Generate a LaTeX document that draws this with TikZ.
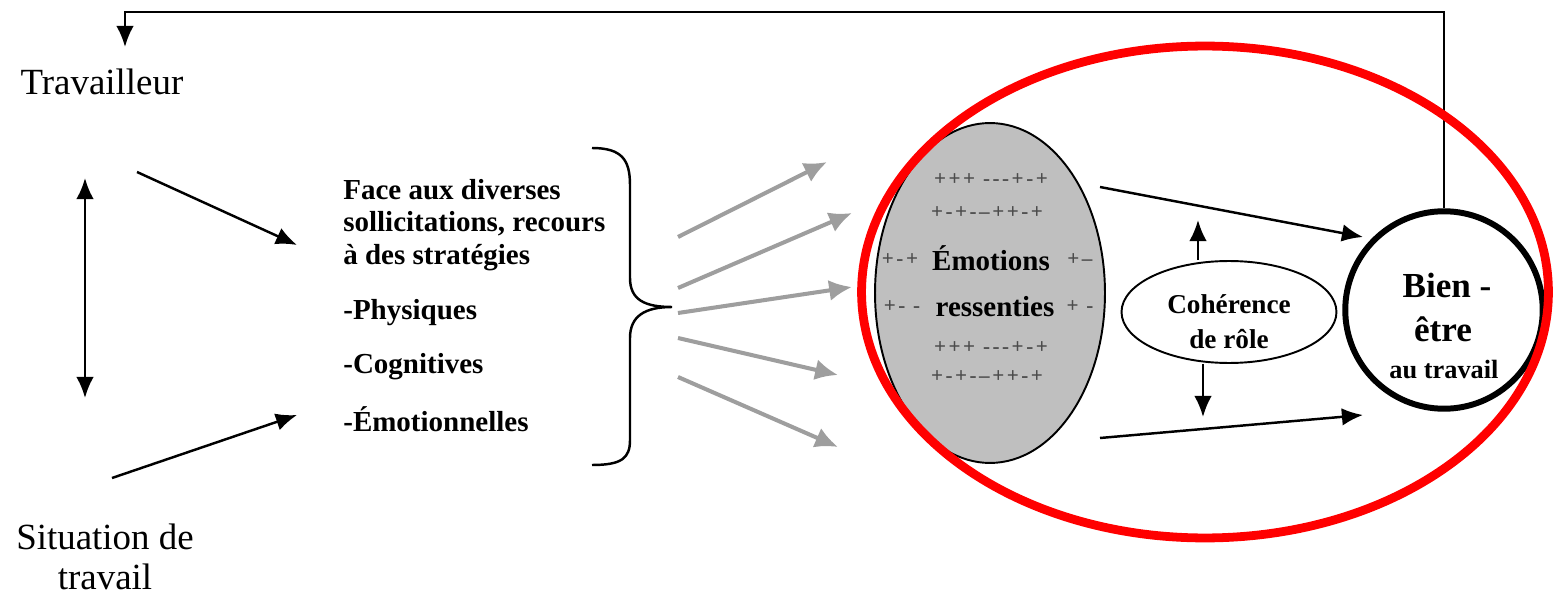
\documentclass[tikz,border=0pt]{standalone}
\usepackage{fontspec}
\setmainfont{Liberation Serif}
\newfontfamily\signesfont[LetterSpace=12,Ligatures=TeXOff]{Liberation Serif}
\usetikzlibrary{arrows.meta,shapes.geometric,positioning}

\begin{document}
\begin{tikzpicture}[x=0.02cm,y=-0.02cm,
    fleche/.style={line width=1.4pt,-{Latex[length=12pt,width=10pt]}},
    gfleche/.style={line width=2.3pt,black!38,-{Latex[length=13pt,width=12pt]}},
    gras/.style={font=\bfseries\fontsize{16.5}{18.7}\selectfont,inner sep=0pt},
    signes/.style={font=\signesfont\bfseries\fontsize{12}{14}\selectfont,text=black!70,inner sep=0pt}]
  \useasboundingbox (0,0) rectangle (1553,598);

  % acteurs
  \node[font=\fontsize{21}{24}\selectfont] (trav) at (102,82) {Travailleur};
  \node[font=\fontsize{21}{23}\selectfont,align=center] (situ) at (105,557) {Situation de\\travail};

  % strategies
  \node[gras,align=left,anchor=west] (face) at (343,225) {Face aux diverses\\sollicitations, recours\\à des stratégies};
  \node[gras,anchor=west] (phys) at (343,313) {-Physiques};
  \node[gras,anchor=west] (cogn) at (343,367) {-Cognitives};
  \node[gras,anchor=west] (emon) at (343,419) {-Émotionnelles};

  % accolade
  \draw[line width=1.4pt] (592,148) .. controls (622,148) and (630,160) .. (630,185) -- (630,278)
     .. controls (630,300) and (645,307) .. (672,307)
     .. controls (645,307) and (630,316) .. (630,338) -- (630,440)
     .. controls (630,458) and (622,465) .. (592,465);
  \coordinate (pointe) at (672,307);

  \coordinate (ta) at (137,172); \coordinate (tb) at (297,245);
  \coordinate (sa) at (112,478); \coordinate (sb) at (297,415);
  \coordinate (va) at (85,178); \coordinate (vb) at (85,398);
  \draw[fleche] (ta) -- (tb);
  \draw[fleche] (sa) -- (sb);
  \draw[line width=1.4pt,{Latex[length=12pt,width=10pt]}-{Latex[length=12pt,width=10pt]}] (va) -- (vb);

  \foreach \n/\ya/\xb/\yb in {1/237/827/162,2/288/852/213,3/313/852/287,4/338/838/375,5/377/838/447}{
    \coordinate (g\n) at (678,\ya);
    \coordinate (h\n) at (\xb,\yb);
    \draw[gfleche] (g\n) -- (h\n);
  }

  % emotions
  \node[ellipse,draw,line width=1.1pt,fill=black!25,minimum width=4.6cm,minimum height=6.8cm] (emo) at (990,293) {};
  \node[signes] (r1) at (991,180) {+++ ---+-+};
  \node[signes] (r2) at (987,213) {+-+-–++-+};
  \node[signes] (r3g) at (900,260) {+-+};
  \node[gras] (emot) at (991,258) {Émotions};
  \node[signes] (r3d) at (1080,260) {+–};
  \node[signes] (r4g) at (902,307) {+- -};
  \node[gras] (ress) at (995,307) {ressenties};
  \node[signes] (r4d) at (1080,307) {+ -};
  \node[signes] (r5) at (991,348) {+++ ---+-+};
  \node[signes] (r6) at (987,377) {+-+-–++-+};

  % coherence
  \node[ellipse,draw,line width=1.1pt,minimum width=4.3cm,minimum height=2.04cm] (coh) at (1229,312) {};
  \node[font=\bfseries\fontsize{15.5}{20}\selectfont,align=center] (cohtxt) at (1229,322) {Cohérence\\de rôle};

  % bien-etre
  \node[circle,draw,line width=3.4pt,minimum size=3.95cm] (bien) at (1444,310) {};
  \node[font=\bfseries\fontsize{20}{24}\selectfont] (bien1) at (1447,285) {Bien -};
  \node[font=\bfseries\fontsize{20}{24}\selectfont] (bien2) at (1443,329) {être};
  \node[font=\bfseries\fontsize{15}{18}\selectfont] (bien3) at (1444,370) {au travail};

  \coordinate (e1) at (1100,187); \coordinate (b1) at (1363,237);
  \coordinate (e2) at (1100,438); \coordinate (b2) at (1363,415);
  \draw[fleche] (e1) -- (b1);
  \draw[fleche] (e2) -- (b2);
  \coordinate (c1) at (1198,220); \coordinate (c2) at (1203,417);
  \draw[fleche] (coh.north -| c1) -- (c1);
  \draw[fleche] (coh.south -| c2) -- (c2);

  % retour
  \coordinate (coin) at (125,12); \coordinate (tete) at (125,47);
  \draw[fleche] (bien.north) |- (coin) -- (tete);

  \draw[red,line width=5pt] (1205,292) ellipse (6.87cm and 4.92cm);
\end{tikzpicture}
\end{document}
